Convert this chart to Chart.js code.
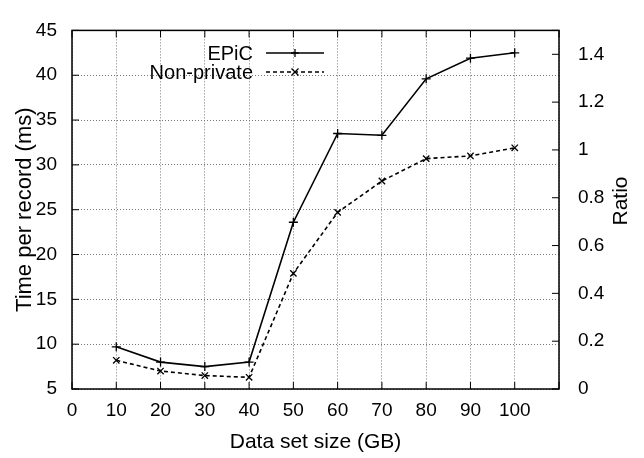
<!DOCTYPE html>
<html>
<head>
<meta charset="utf-8">
<script src="https://cdn.jsdelivr.net/npm/chart.js@4/dist/chart.umd.min.js"></script>
<style>
  html, body { margin: 0; padding: 0; background: #fff; }
  #wrap { width: 644px; height: 458px; }
</style>
</head>
<body>
<div id="wrap"><canvas id="time-chart" width="644" height="458"></canvas></div>
<script>
const ctx = document.getElementById('time-chart');

// Data set sizes (GB)
const sizes = [10, 20, 30, 40, 50, 60, 70, 80, 90, 100];
// Time per record (ms)
const epic = [9.7, 8.0, 7.5, 8.0, 23.6, 33.5, 33.3, 39.6, 41.9, 42.5];
const nonPrivate = [8.2, 7.0, 6.5, 6.3, 17.9, 24.7, 28.2, 30.7, 31.0, 31.9];

const FAMILY = '"Liberation Sans", Arial, sans-serif';
const TICKFONT = { family: FAMILY, size: 19 };
const TITLEFONT = { family: FAMILY, size: 21 };

// gnuplot-ish frame, inward ticks, right axis title and inset legend
const framePlugin = {
    id: 'frame',
    afterDatasetsDraw(chart) {
        const c = chart.ctx;
        const a = chart.chartArea;
        c.save();
        c.strokeStyle = '#000';
        c.lineWidth = 1.5;
        c.setLineDash([]);
        c.strokeRect(a.left, a.top, a.right - a.left, a.bottom - a.top);

        // inward tick marks
        c.lineWidth = 1;
        const x = chart.scales.x, y = chart.scales.y, y2 = chart.scales.y2;
        x.ticks.forEach(t => {
            const px = x.getPixelForValue(t.value);
            c.beginPath();
            c.moveTo(px, a.bottom); c.lineTo(px, a.bottom - 7);
            c.moveTo(px, a.top); c.lineTo(px, a.top + 7);
            c.stroke();
        });
        y.ticks.forEach(t => {
            const py = y.getPixelForValue(t.value);
            c.beginPath();
            c.moveTo(a.left, py); c.lineTo(a.left + 7, py);
            c.stroke();
        });
        y2.ticks.forEach(t => {
            const py = y2.getPixelForValue(t.value);
            c.beginPath();
            c.moveTo(a.right, py); c.lineTo(a.right - 7, py);
            c.stroke();
        });

        // legend
        c.font = '20px ' + FAMILY;
        c.fillStyle = '#000';
        c.textAlign = 'right';
        c.textBaseline = 'middle';
        const rows = [{ ds: chart.data.datasets[0], y: 53 }, { ds: chart.data.datasets[1], y: 72 }];
        rows.forEach(r => {
            c.fillText(r.ds.label, 253, r.y + 1);
            c.beginPath();
            c.lineWidth = r.ds.borderWidth;
            c.setLineDash(r.ds.borderDash || []);
            c.moveTo(266, r.y); c.lineTo(324, r.y);
            c.stroke();
            c.setLineDash([]);
            c.lineWidth = 1.3;
            c.beginPath();
            if (r.ds.pointStyle === 'cross') {
                c.moveTo(295 - 4, r.y); c.lineTo(295 + 4, r.y);
                c.moveTo(295, r.y - 4); c.lineTo(295, r.y + 4);
            } else {
                c.moveTo(295 - 3.5, r.y - 3.5); c.lineTo(295 + 3.5, r.y + 3.5);
                c.moveTo(295 - 3.5, r.y + 3.5); c.lineTo(295 + 3.5, r.y - 3.5);
            }
            c.stroke();
        });

        // right axis title, reading bottom-to-top
        c.save();
        c.font = '21px ' + FAMILY;
        c.translate(621, 201);
        c.rotate(-Math.PI / 2);
        c.textAlign = 'center';
        c.fillText('Ratio', 0, 0);
        c.restore();
        c.restore();
    }
};

const grid = {
    color: '#777',
    lineWidth: 1,
    drawTicks: false,
};
const dotted = { display: false, dash: [1, 2] };

const timeChart = new Chart(ctx, {
    type: 'line',
    data: {
        datasets: [{
            label: 'EPiC',
            data: sizes.map((s, i) => ({ x: s, y: epic[i] })),
            borderColor: '#000',
            backgroundColor: '#000',
            borderWidth: 1.6,
            pointStyle: 'cross',
            pointRadius: 4.5,
            pointBorderWidth: 1.3,
            tension: 0,
        }, {
            label: 'Non-private',
            data: sizes.map((s, i) => ({ x: s, y: nonPrivate[i] })),
            borderColor: '#000',
            backgroundColor: '#000',
            borderWidth: 1.6,
            borderDash: [4, 3],
            pointStyle: 'crossRot',
            pointRadius: 4.5,
            pointBorderWidth: 1.3,
            tension: 0,
        }]
    },
    options: {
        responsive: false,
        animation: false,
        layout: { padding: 0 },
        plugins: { legend: { display: false }, tooltip: { enabled: false } },
        scales: {
            x: {
                type: 'linear',
                min: 0, max: 110,
                afterFit(s) { s.height = 69; },
                ticks: {
                    stepSize: 10, color: '#000', font: TICKFONT, padding: 10,
                    callback: v => v <= 100 ? v : ''
                },
                grid: grid,
                border: dotted,
                title: { display: true, text: 'Data set size (GB)', color: '#000', font: TITLEFONT, padding: { top: 0, bottom: 3 } }
            },
            y: {
                position: 'left',
                min: 5, max: 45,
                afterFit(s) { s.width = 72; },
                ticks: { stepSize: 5, color: '#000', font: TICKFONT, padding: 15 },
                grid: grid,
                border: dotted,
                title: { display: true, text: 'Time per record (ms)', color: '#000', font: { family: FAMILY, size: 22 }, padding: { top: 12, bottom: 0 } }
            },
            y2: {
                position: 'right',
                min: 0, max: 1.5,
                afterFit(s) { s.width = 85; },
                ticks: {
                    stepSize: 0.2, color: '#000', font: TICKFONT, padding: 19,
                    callback: v => v > 1.45 ? '' : String(+v.toFixed(1))
                },
                grid: { drawOnChartArea: false, drawTicks: false },
                border: { display: false }
            }
        }
    },
    plugins: [framePlugin]
});
</script>
</body>
</html>
